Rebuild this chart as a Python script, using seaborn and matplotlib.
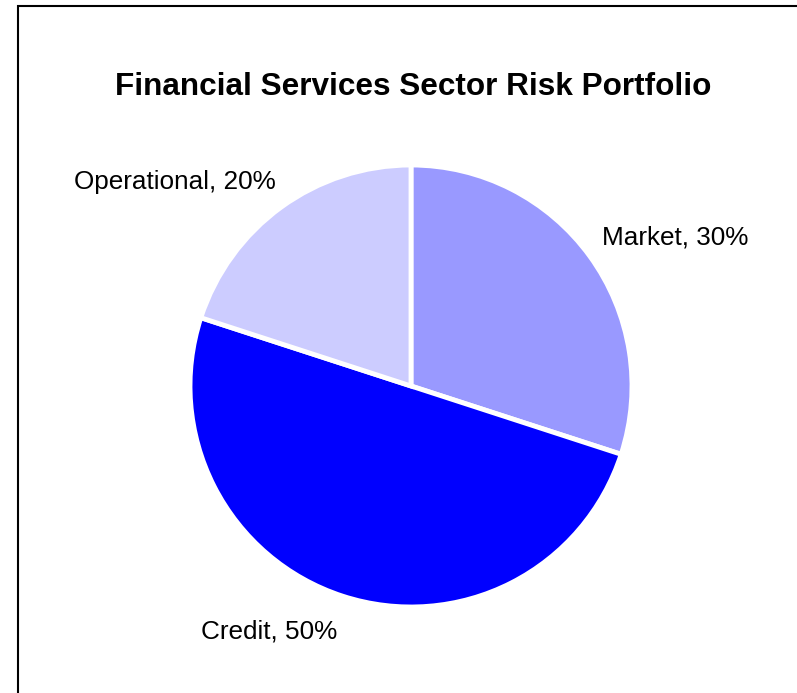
import matplotlib
matplotlib.use("Agg")
import matplotlib.pyplot as plt
from matplotlib.patches import Rectangle
import seaborn as sns

# Risk shares
categories = ["Market", "Credit", "Operational"]
shares = [30, 50, 20]
colors = ["#9999FF", "#0000FF", "#CCCCFF"]

sns.set_theme(style="white")
plt.rcParams['font.family'] = ['Liberation Sans', 'DejaVu Sans']

fig = plt.figure(figsize=(7.97, 6.93), dpi=100)
ax = fig.add_axes([(411 - 221) / 797, (307 - 221) / 693, 442 / 797, 442 / 693])

labels = [f"{c}, {s}%" for c, s in zip(categories, shares)]
wedges, texts = ax.pie(shares, labels=labels, colors=colors, startangle=90,
                       counterclock=False, labeldistance=1.3,
                       wedgeprops=dict(edgecolor="white", linewidth=3.5),
                       textprops=dict(fontsize=18.8, color="black"))
ax.set_xlim(-1, 1)
ax.set_ylim(-1, 1)
ax.set_aspect("equal")
ax.axis("off")

# nudge labels to where the original puts them
label_pos = [(1.195, 0.672), (-0.641, -1.112), (-1.068, 0.924)]
for t, (x, y) in zip(texts, label_pos):
    t.set_position((x, y))
    t.set_ha("center")
    t.set_va("center")

fig.text(413 / 797, 1 - 87 / 693, "Financial Services Sector Risk Portfolio",
         ha="center", va="center", fontsize=22.7, fontweight="bold", color="black")

# chart border
fig.patches.append(Rectangle((18 / 797, -0.1), 1.2, 1.1 - 6 / 693,
                             transform=fig.transFigure, fill=False,
                             edgecolor="black", linewidth=1.5))

fig.savefig("out.png", dpi=100)
